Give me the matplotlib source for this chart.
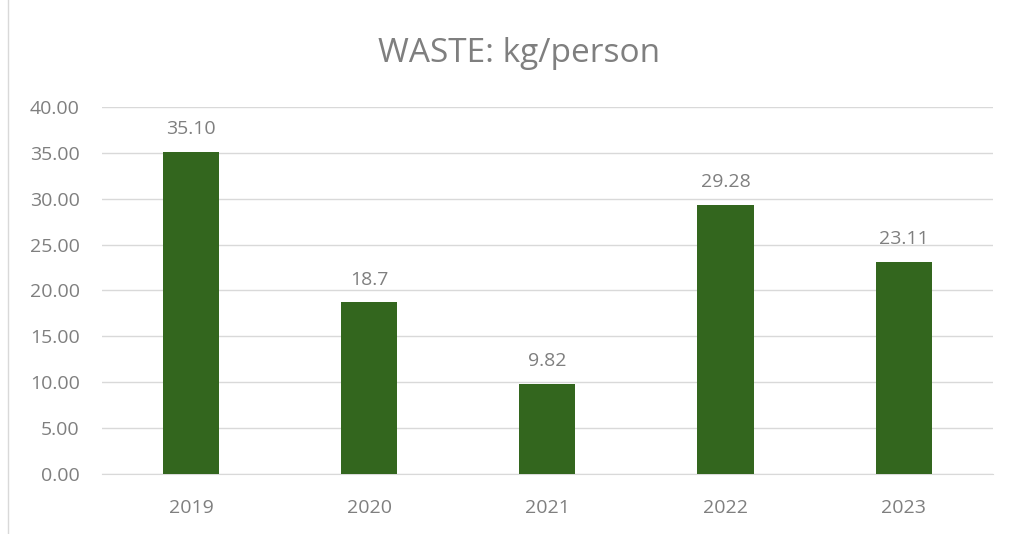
import matplotlib
matplotlib.use('Agg')
import matplotlib.pyplot as plt
from matplotlib.patches import Rectangle

years = ['2019', '2020', '2021', '2022', '2023']
waste = [35.10, 18.7, 9.82, 29.28, 23.11]
value_labels = ['35.10', '18.7', '9.82', '29.28', '23.11']
yticks = [0, 5, 10, 15, 20, 25, 30, 35, 40]

plt.rcParams['font.family'] = ['Open Sans', 'DejaVu Sans']
txt = '#7F7F7F'

fig = plt.figure(figsize=(10.13, 5.34), dpi=100)
ax = fig.add_axes([0.1007, 0.1124, 0.8793, 0.6872])

bars = ax.bar(range(len(years)), waste, width=0.315, color='#33661E', zorder=3)
for b, lab in zip(bars, value_labels):
    ax.annotate(lab, (b.get_x() + b.get_width() / 2, b.get_height()),
                xytext=(0, 10), textcoords='offset points', ha='center', va='bottom',
                fontsize=14, color=txt)

ax.set_xlim(-0.5, len(years) - 0.5)
ax.set_ylim(0, 40)
ax.set_yticks(yticks)
ax.set_yticklabels(['%.2f' % v for v in yticks])
ax.set_xticks(range(len(years)))
ax.set_xticklabels(years)
ax.tick_params(axis='both', length=0, labelsize=14, labelcolor=txt)
ax.tick_params(axis='y', pad=16)
ax.tick_params(axis='x', pad=18)
ax.grid(axis='y', color='#D9D9D9', linewidth=1, zorder=0)
for s in ['top', 'right', 'left']:
    ax.spines[s].set_visible(False)
ax.spines['bottom'].set_color('#D9D9D9')

fig.text(0.512, 0.9, 'WASTE: kg/person', ha='center', va='center', fontsize=24, color=txt)

fig.patches.append(Rectangle((0.008, -0.01), 1.2, 1.2, transform=fig.transFigure,
                             fill=False, edgecolor='#D9D9D9', linewidth=1))

fig.savefig('out.png', dpi=100)
